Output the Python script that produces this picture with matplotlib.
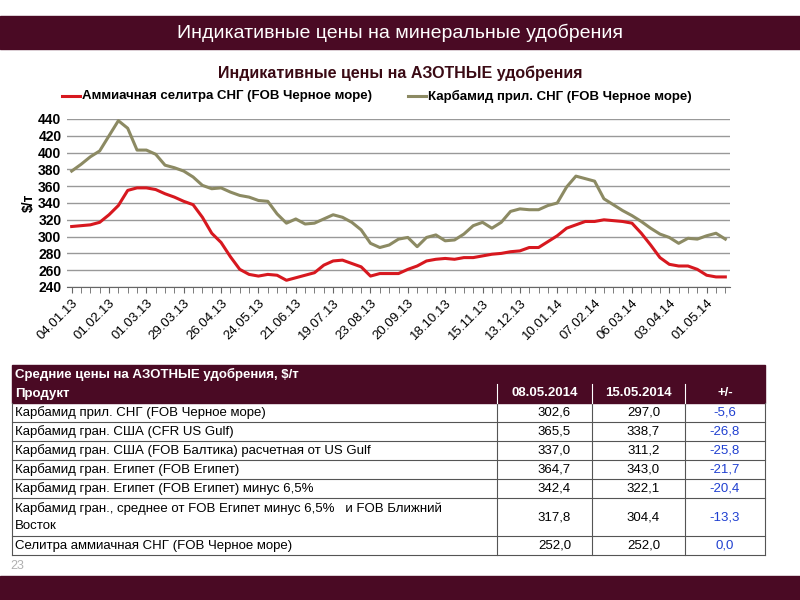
import matplotlib.pyplot as plt
from matplotlib.patches import Rectangle
from matplotlib import font_manager

# шрифт: узкий, если есть
fams = {f.name for f in font_manager.fontManager.ttflist}
FONT = 'Liberation Sans Narrow' if 'Liberation Sans Narrow' in fams else 'Liberation Sans'
plt.rcParams['font.family'] = FONT

MAROON = '#4a0a24'

# еженедельные цены, $/т
ammonium_nitrate = [312, 313, 314, 317, 326, 337, 355, 358, 358, 356, 351, 347, 342, 338, 323,
                    304, 293, 276, 261, 255, 253, 255, 254, 248, 251, 254, 257, 266, 271, 272,
                    268, 264, 253, 256, 256, 256, 261, 265, 271, 273, 274, 273, 275, 275, 277,
                    279, 280, 282, 283, 287, 287, 294, 301, 310, 314, 318, 318, 320, 319, 318,
                    316, 304, 290, 275, 267, 265, 265, 261, 254, 252, 252]
urea = [378, 386, 395, 402, 420, 438, 429, 403, 403, 398, 385, 382, 378, 371, 361,
        357, 358, 353, 349, 347, 343, 342, 327, 316, 321, 315, 316, 321, 326, 323,
        317, 308, 292, 287, 290, 297, 299, 288, 299, 302, 295, 296, 303, 313, 317,
        310, 317, 330, 333, 332, 332, 337, 340, 359, 372, 369, 366, 345, 338, 331,
        325, 318, 310, 303, 299, 292, 298, 297, 301, 304, 297]
tick_labels = ['04.01.13', '01.02.13', '01.03.13', '29.03.13', '26.04.13', '24.05.13',
               '21.06.13', '19.07.13', '23.08.13', '20.09.13', '18.10.13', '15.11.13',
               '13.12.13', '10.01.14', '07.02.14', '06.03.14', '03.04.14', '01.05.14']
yticks = [240, 260, 280, 300, 320, 340, 360, 380, 400, 420, 440]

table_title = 'Средние цены на АЗОТНЫЕ удобрения, $/т'
table_header = ['Продукт', '08.05.2014', '15.05.2014', '+/-']
products = ['Карбамид прил. СНГ (FOB Черное море)',
            'Карбамид гран. США (CFR US Gulf)',
            'Карбамид гран. США (FOB Балтика) расчетная от US Gulf',
            'Карбамид гран. Египет (FOB Египет)',
            'Карбамид гран. Египет (FOB Египет) минус 6,5%',
            'Карбамид гран., среднее от FOB Египет минус 6,5%   и FOB Ближний\nВосток',
            'Селитра аммиачная СНГ (FOB Черное море)']
price_0805 = ['302,6', '365,5', '337,0', '364,7', '342,4', '317,8', '252,0']
price_1505 = ['297,0', '338,7', '311,2', '343,0', '322,1', '304,4', '252,0']
change = ['-5,6', '-26,8', '-25,8', '-21,7', '-20,4', '-13,3', '0,0']

fig = plt.figure(figsize=(8, 6), dpi=100)

# фон слайда в пикселях
bg = fig.add_axes([0, 0, 1, 1])
bg.set_xlim(0, 800)
bg.set_ylim(600, 0)
bg.axis('off')
bg.add_patch(Rectangle((0, 16), 800, 33, color=MAROON))
bg.add_patch(Rectangle((0, 576), 800, 24, color=MAROON))
bg.text(400, 33, 'Индикативные цены на минеральные удобрения', color='white',
        fontsize=14, ha='center', va='center')
bg.text(400, 73, 'Индикативные цены на АЗОТНЫЕ удобрения', color='#3a0a14',
        fontsize=11.5, fontweight='bold', ha='center', va='center')
bg.text(10, 566, '23', color='#b0b0b0', fontsize=9, va='center')

# таблица
cols = [12, 497, 592, 685, 765]
rows = [365, 384, 403, 422, 441, 460, 479, 498, 536, 555]
bg.add_patch(Rectangle((12, 365), 753, 38, color=MAROON))
bg.text(15, 374.5, table_title, color='white', fontsize=9.5, fontweight='bold', va='center')
for j, h in enumerate(table_header):
    if j == 0:
        bg.text(15, 393.5, h, color='white', fontsize=9.5, fontweight='bold', va='center')
    else:
        bg.text((cols[j] + cols[j + 1]) / 2, 393.5, h, color='white', fontsize=9.5,
                fontweight='bold', va='center', ha='center')
for i in range(len(products)):
    y0, y1 = rows[i + 2], rows[i + 3]
    yc = (y0 + y1) / 2
    bg.text(15, yc, products[i], fontsize=9.5, va='center', linespacing=1.5)
    bg.text((cols[1] + cols[2]) / 2 + 10, yc, price_0805[i], fontsize=9.5, va='center', ha='center')
    bg.text((cols[2] + cols[3]) / 2 + 5, yc, price_1505[i], fontsize=9.5, va='center', ha='center')
    bg.text((cols[3] + cols[4]) / 2, yc, change[i], fontsize=9.5, va='center', ha='center',
            color='#1f3fd0')
    bg.plot([12, 765], [y1, y1], color='#555555', lw=0.8)
for x in cols:
    bg.plot([x, x], [403, 555], color='#555555', lw=0.8)
for x in cols[1:4]:
    bg.plot([x, x], [384, 403], color='white', lw=0.8)

# легенда
bg.plot([62, 80], [96, 96], color='#d7181f', lw=2.2)
bg.text(82, 96, 'Аммиачная селитра СНГ (FOB Черное море)', fontsize=9.5,
        fontweight='bold', va='center')
bg.plot([408, 426], [96, 96], color='#8c8a63', lw=2.2)
bg.text(428, 96, 'Карбамид прил. СНГ (FOB Черное море)', fontsize=9.5,
        fontweight='bold', va='center')

# график
ax = fig.add_axes([67 / 800, 1 - 287 / 600, 663 / 800, 168 / 600])
x = list(range(len(urea)))
ax.plot(x, urea, color='#8c8a63', lw=2.2)
ax.plot(x, ammonium_nitrate, color='#d7181f', lw=2.2)
ax.set_xlim(-0.5, len(urea) - 0.5)
ax.set_ylim(240, 440)
ax.set_yticks(yticks)
ax.set_yticklabels([str(v) for v in yticks], fontsize=10, fontweight='bold')
ax.grid(axis='y', color='#999999', lw=1)
ax.set_xticks(x, minor=True)
ax.set_xticks(x[::4])
ax.set_xticklabels(tick_labels, rotation=45, ha='right', rotation_mode='anchor', fontsize=9.5)
ax.tick_params(axis='x', which='both', length=4, color='#666666')
ax.tick_params(axis='y', length=0, pad=4)
ax.set_ylabel('$/т', fontsize=10, fontweight='bold', labelpad=2)
for s in ['top', 'right', 'left']:
    ax.spines[s].set_visible(False)
ax.spines['bottom'].set_color('#666666')

fig.savefig('out.png', dpi=100)
